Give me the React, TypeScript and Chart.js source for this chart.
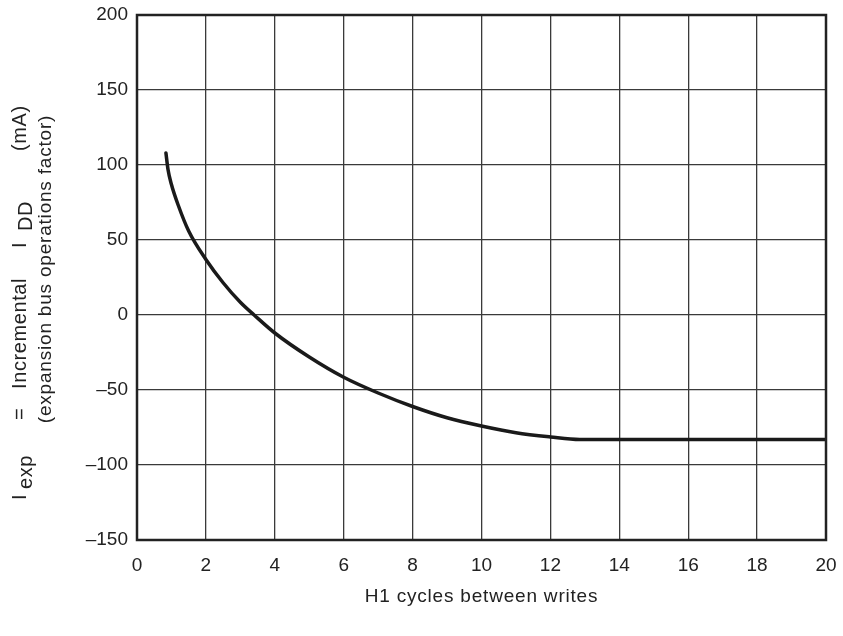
import React, { useEffect, useRef } from "react";
import { Chart, registerables } from "chart.js";

Chart.register(...registerables);

// Data
const xValues = [0.84, 0.9, 1.0, 1.2, 1.5, 2, 2.5, 3, 3.4, 4, 5, 6, 7, 8, 9, 10, 11, 12, 12.85, 20];
const yValues = [108, 97, 87, 73, 56, 37, 21.5, 8.5, 0, -12, -28, -41.5, -52, -61, -68.5, -74, -78.5, -81.3, -83, -83];

const xMin = 0;
const xMax = 20;
const xStep = 2;
const yMin = -150;
const yMax = 200;
const yStep = 50;

const xTitle = "H1 cycles between writes";
const yTitleLine2 = "(expansion bus operations factor)";
const yTitleLine1 = [
  { t: "I", y: 500, sub: false },
  { t: "exp", y: 489, sub: true },
  { t: "=", y: 420, sub: false },
  { t: "Incremental", y: 389, sub: false },
  { t: "I", y: 248, sub: false },
  { t: "DD", y: 231, sub: true },
  { t: "(mA)", y: 151, sub: false },
];

const FONT = '"Liberation Sans", Arial, Helvetica, sans-serif';
const INK = "#222";

export default function App() {
  const ref = useRef<HTMLCanvasElement>(null);

  useEffect(() => {
    const canvas = ref.current;
    if (!canvas) return;

    const setSpacing = (ctx: any, v: string) => {
      try {
        ctx.letterSpacing = v;
      } catch (e) {}
    };

    const decor = {
      id: "decor",
      beforeDraw(chart: any) {
        const ctx = chart.ctx;
        ctx.save();
        ctx.fillStyle = "#fff";
        ctx.fillRect(0, 0, chart.width, chart.height);
        ctx.restore();
      },
      afterDraw(chart: any) {
        const ctx = chart.ctx;
        const a = chart.chartArea;
        ctx.save();
        ctx.strokeStyle = INK;
        ctx.lineWidth = 2.5;
        ctx.strokeRect(a.left, a.top, a.right - a.left, a.bottom - a.top);

        ctx.fillStyle = INK;
        ctx.font = `19px ${FONT}`;
        setSpacing(ctx, "0.8px");
        ctx.textAlign = "center";
        ctx.textBaseline = "middle";
        ctx.fillText(xTitle, (a.left + a.right) / 2, 597);

        // y title, line 2
        ctx.save();
        ctx.translate(51, 269);
        ctx.rotate(-Math.PI / 2);
        ctx.textBaseline = "alphabetic";
        ctx.fillText(yTitleLine2, 0, 0);
        ctx.restore();

        // y title, line 1 with subscripts
        ctx.save();
        ctx.font = `20px ${FONT}`;
        setSpacing(ctx, "0.6px");
        ctx.translate(26, 0);
        ctx.rotate(-Math.PI / 2);
        ctx.textAlign = "left";
        ctx.textBaseline = "alphabetic";
        for (const p of yTitleLine1) {
          ctx.fillText(p.t, -p.y, p.sub ? 6 : 0);
        }
        ctx.restore();
        ctx.restore();
      },
    };

    const chart = new Chart(canvas, {
      type: "line",
      data: {
        datasets: [
          {
            data: xValues.map((x, i) => ({ x, y: yValues[i] })),
            borderColor: "#1a1a1a",
            borderWidth: 3.5,
            borderCapStyle: "round",
            pointRadius: 0,
            cubicInterpolationMode: "monotone",
            fill: false,
          },
        ],
      },
      options: {
        responsive: false,
        animation: false,
        devicePixelRatio: 1,
        layout: { padding: { top: 15, right: 17, left: 0, bottom: 0 } },
        plugins: {
          legend: { display: false },
          tooltip: { enabled: false },
          title: { display: false },
        },
        scales: {
          x: {
            type: "linear",
            min: xMin,
            max: xMax,
            afterFit: (s: any) => {
              s.height = 96;
              s.paddingLeft = 0;
              s.paddingRight = 0;
            },
            ticks: {
              stepSize: xStep,
              color: INK,
              font: { family: FONT, size: 19 },
              padding: 14,
              maxRotation: 0,
            },
            grid: { color: "#3a3a3a", lineWidth: 1.3, drawTicks: false },
            border: { display: false },
          },
          y: {
            type: "linear",
            min: yMin,
            max: yMax,
            afterFit: (s: any) => {
              s.width = 137;
              s.paddingTop = 0;
              s.paddingBottom = 0;
            },
            ticks: {
              stepSize: yStep,
              color: INK,
              font: { family: FONT, size: 19 },
              padding: 9,
              callback: (v: any) => String(v).replace("-", "\u2013"),
            },
            grid: { color: "#3a3a3a", lineWidth: 1.3, drawTicks: false },
            border: { display: false },
          },
        },
      },
      plugins: [decor],
    } as any);

    return () => chart.destroy();
  }, []);

  return (
    <div style={{ position: "absolute", left: 0, top: 0, width: 843, height: 636, background: "#fff" }}>
      <canvas ref={ref} width={843} height={636} style={{ display: "block", width: 843, height: 636 }} />
    </div>
  );
}
